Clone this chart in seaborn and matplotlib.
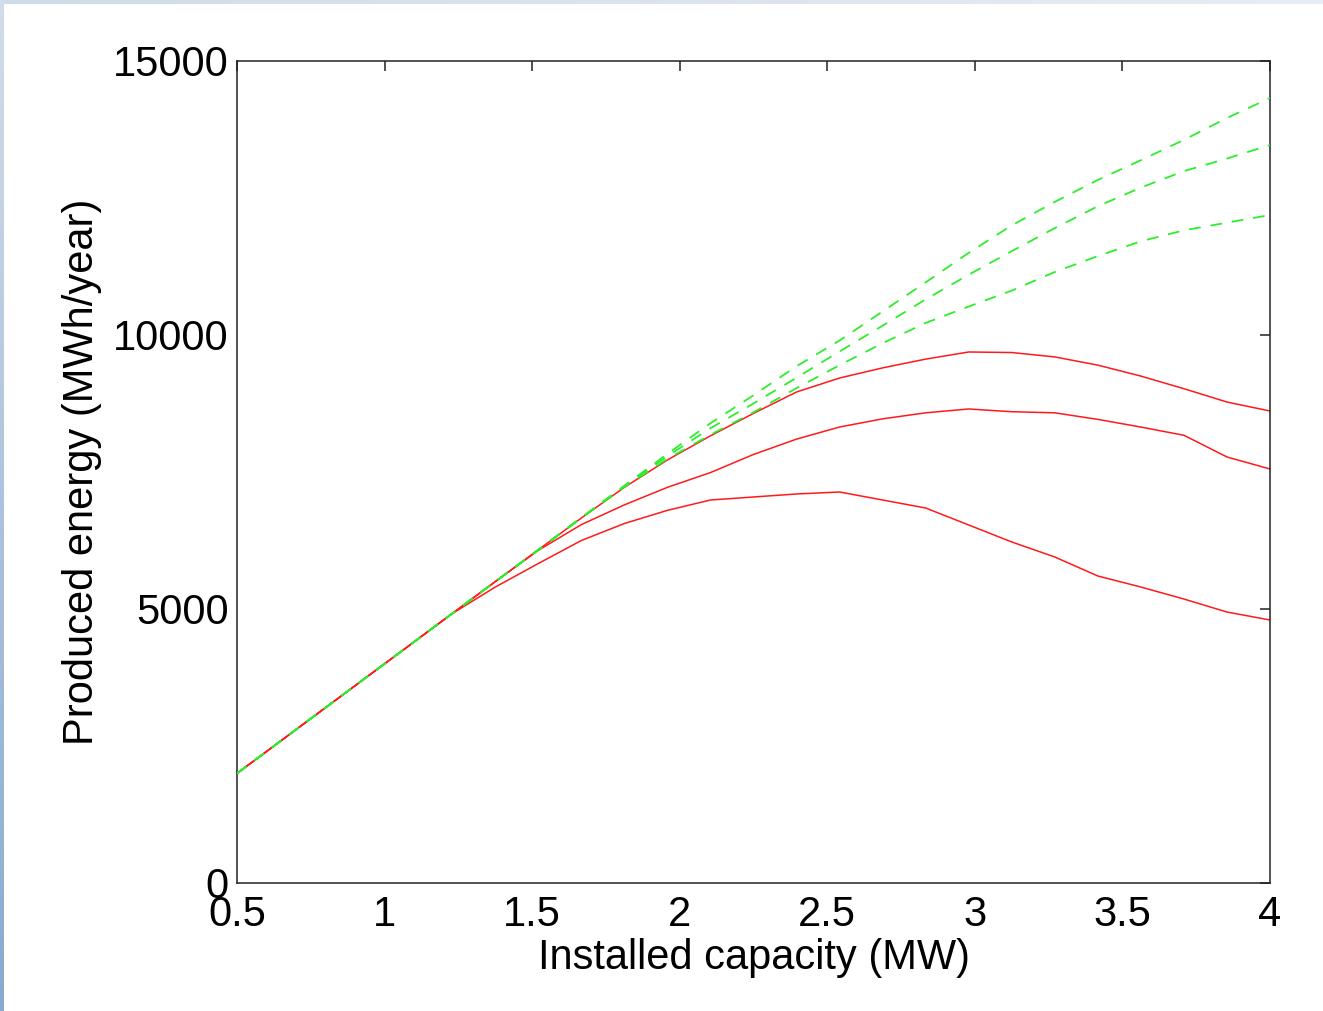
import numpy as np
import pandas as pd
import matplotlib
matplotlib.use("Agg")
import matplotlib.pyplot as plt
import seaborn as sns
from matplotlib.ticker import FuncFormatter

# ---------------- data ----------------
capacity = [0.5, 0.6458, 0.7917, 0.9375, 1.0833, 1.2292, 1.375, 1.5208, 1.6667,
            1.8125, 1.9583, 2.1042, 2.25, 2.3958, 2.5417, 2.6875, 2.8333, 2.9792,
            3.125, 3.2708, 3.4167, 3.5625, 3.7083, 3.8542, 4.0]

red_top = [2000, 2583, 3167, 3750, 4333, 4917, 5500, 6080, 6660, 7220, 7720, 8160,
           8570, 8960, 9215, 9400, 9560, 9690, 9680, 9600, 9450, 9250, 9020, 8777, 8613]
red_mid = [2000, 2583, 3167, 3750, 4333, 4917, 5500, 6070, 6540, 6900, 7220, 7490,
           7820, 8100, 8321, 8470, 8580, 8650, 8600, 8580, 8460, 8320, 8170, 7774, 7555]
red_low = [2000, 2583, 3167, 3750, 4333, 4917, 5400, 5830, 6250, 6560, 6800, 6989,
           7044, 7099, 7135, 6989, 6843, 6533, 6223, 5949, 5602, 5401, 5182, 4945, 4799]

green_top = [2000, 2583, 3167, 3750, 4333, 4917, 5500, 6080, 6667, 7250, 7830, 8390,
             8900, 9430, 9900, 10430, 10960, 11500, 12000, 12430, 12830, 13190, 13560, 13960, 14325]
green_mid = [2000, 2583, 3167, 3750, 4333, 4917, 5500, 6080, 6667, 7240, 7790, 8300,
             8750, 9220, 9700, 10170, 10650, 11100, 11530, 11950, 12350, 12690, 12990, 13220, 13467]
green_low = [2000, 2583, 3167, 3750, 4333, 4917, 5500, 6080, 6660, 7230, 7740, 8180,
             8590, 9030, 9450, 9850, 10220, 10520, 10810, 11150, 11440, 11710, 11910, 12050, 12190]

x_ticks = [0.5, 1, 1.5, 2, 2.5, 3, 3.5, 4]
y_ticks = [0, 5000, 10000, 15000]
x_label = "Installed capacity (MW)"
y_label = "Produced energy (MWh/year)"

# ---------------- styling ----------------
sns.set_style("white")
plt.rcParams["font.family"] = ["Liberation Sans", "DejaVu Sans"]
plt.rcParams["text.color"] = "black"
plt.rcParams["axes.labelcolor"] = "black"
plt.rcParams["xtick.color"] = "black"
plt.rcParams["ytick.color"] = "black"

fig = plt.figure(figsize=(13.23, 10.11), dpi=100)
fig.patch.set_facecolor("white")

# light bluish screenshot frame on left and top edges
frame_top = fig.add_axes([0, 1 - 4 / 1011, 1, 4 / 1011])
frame_top.imshow(np.linspace(0, 1, 200)[None, :], aspect="auto",
                 cmap=matplotlib.colors.LinearSegmentedColormap.from_list("t", ["#cfdbe8", "#e6edf4"]))
frame_top.axis("off")
frame_left = fig.add_axes([0, 0, 4 / 1323, 1])
frame_left.imshow(np.linspace(0, 1, 200)[:, None], aspect="auto",
                  cmap=matplotlib.colors.LinearSegmentedColormap.from_list("l", ["#d2dcea", "#88aad0"]))
frame_left.axis("off")

ax = fig.add_axes([237 / 1323, 1 - 883 / 1011, (1270 - 237) / 1323, (883 - 61) / 1011])

red = "#ff1a1a"
green = "#2cee2c"

for ys in (red_top, red_mid, red_low):
    df = pd.DataFrame({"capacity": capacity, "energy": ys})
    sns.lineplot(data=df, x="capacity", y="energy", ax=ax, color=red,
                 linewidth=1.1, estimator=None, sort=False, zorder=2)
for ys in (green_low, green_mid, green_top):
    df = pd.DataFrame({"capacity": capacity, "energy": ys})
    sns.lineplot(data=df, x="capacity", y="energy", ax=ax, color=green,
                 linewidth=1.3, linestyle=(0, (6.5, 5.5)), estimator=None,
                 sort=False, zorder=3)

ax.set_xlim(0.5, 4)
ax.set_ylim(0, 15000)
ax.set_xticks(x_ticks)
ax.set_yticks(y_ticks)
ax.xaxis.set_major_formatter(FuncFormatter(lambda v, p: f"{v:g}"))
ax.yaxis.set_major_formatter(FuncFormatter(lambda v, p: f"{int(v)}"))

for side in ("top", "right", "bottom", "left"):
    ax.spines[side].set_visible(True)
    ax.spines[side].set_color("#222222")
    ax.spines[side].set_linewidth(1.1)

ax.tick_params(axis="both", which="major", direction="in", length=7.5, width=1.1,
               color="#222222", labelcolor="black", labelsize=30, top=True, right=True,
               labeltop=False, labelright=False)
ax.tick_params(axis="x", pad=9)
ax.tick_params(axis="y", pad=6)

ax.set_xlabel(x_label, fontsize=30, labelpad=2, color="black")
ax.set_ylabel(y_label, fontsize=30, color="black")
ax.yaxis.set_label_coords(-0.131, 0.5)
ax.grid(False)
ax.set_facecolor("white")

fig.savefig("out.png", dpi=100, facecolor="white")
